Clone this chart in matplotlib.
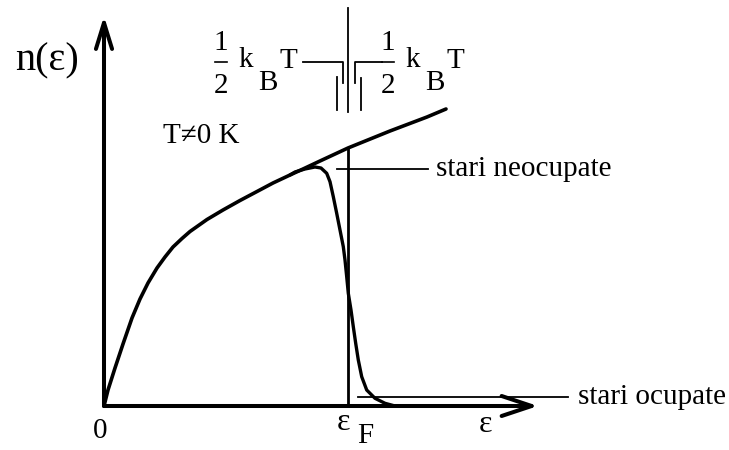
import matplotlib
matplotlib.use("Agg")
import matplotlib.pyplot as plt

plt.rcParams['font.family'] = ['Liberation Serif', 'DejaVu Serif']

# density of states n(eps) (arbitrary units)
eps_dos = [0, 4, 11, 19, 28, 36, 44, 53, 61, 69, 78, 86, 103, 119, 136, 153,
           169, 186, 199, 216, 244, 286, 323, 342]
n_dos = [0, 16, 38, 62, 88, 107, 123, 138, 149, 159, 167.5, 174.5, 186.5, 196,
         205.5, 214.5, 223, 231, 237, 245, 258, 275, 289, 297]

# occupied states at T != 0 (leaves the DOS curve near the Fermi level)
eps_occ = [186, 191, 201, 211, 217, 222.7, 226, 229.3, 232.7, 236, 239.3, 241,
           242.7, 244.3, 247, 249.3, 251.7, 254.3, 257.7, 262.7, 271, 281, 291]
n_occ = [231, 234, 237, 239, 238, 232.7, 224.3, 209.3, 192.7, 176, 159.3, 146,
         129.3, 112.7, 96, 79.3, 62.7, 46, 29.3, 16, 7.7, 2.7, 0]

eps_F = 244
n_F = 258
half_kT = 12.5

fig = plt.figure(figsize=(7.29, 4.5), dpi=100)
ax = fig.add_axes([0, 0, 1, 1])
ax.set_xlim(-104, 625)
ax.set_ylim(-44, 406)
ax.axis('off')

# axes with open arrow heads
ax.annotate('', xy=(434, 0), xytext=(0, 0),
            arrowprops=dict(arrowstyle='->,head_length=1.08,head_width=0.36',
                            lw=2.9, color='black', mutation_scale=20,
                            shrinkA=0, shrinkB=0))
ax.annotate('', xy=(0, 390), xytext=(0, 0),
            arrowprops=dict(arrowstyle='->,head_length=0.94,head_width=0.29',
                            lw=2.9, color='black', mutation_scale=20,
                            shrinkA=0, shrinkB=0))

ax.plot(eps_dos, n_dos, color='black', lw=2.6, solid_capstyle='round')
ax.plot(eps_occ, n_occ, color='black', lw=2.4, solid_capstyle='round')

# Fermi level
ax.plot([eps_F, eps_F], [0, n_F], color='black', lw=2.0)

# the kT markers on top
thin = dict(color='black', lw=1.3)
ax.plot([eps_F, eps_F], [294, 398], **thin)
ax.plot([eps_F - half_kT + 1, eps_F - half_kT + 1], [296, 329], **thin)
ax.plot([eps_F + half_kT + 1, eps_F + half_kT + 1], [296, 328], **thin)
ax.plot([199, eps_F - 5, eps_F - 5], [344, 344, 323], **thin)
ax.plot([278, eps_F + 7, eps_F + 7], [344, 344, 323], **thin)

# pointer lines
ax.plot([233, 324], [237, 237], **thin)
ax.plot([254, 464], [9.5, 9.5], **thin)

fs = 21
ax.text(-89, 336, 'n(ε)', fontsize=29, ha='left', va='baseline')
ax.text(59, 263, 'T≠0 K', fontsize=fs, ha='left', va='baseline')
ax.text(-4, -32, '0', fontsize=fs, ha='center', va='baseline')
ax.text(233, -24, 'ε', fontsize=23, ha='left', va='baseline')
ax.text(253, -37, 'F', fontsize=fs, ha='left', va='baseline')
ax.text(375, -26, 'ε', fontsize=23, ha='left', va='baseline')
ax.text(332, 230, 'stari neocupate', fontsize=fs, ha='left', va='baseline')
ax.text(474, 2, 'stari ocupate', fontsize=fs, ha='left', va='baseline')

# 1/2 kB T labels
for dx in [0, 167]:
    ax.plot([111 + dx, 123 + dx], [344, 344], color='black', lw=1.2)
    ax.text(117 + dx, 356, '1', fontsize=fs, ha='center', va='baseline')
    ax.text(117 + dx, 313, '2', fontsize=fs, ha='center', va='baseline')
    ax.text(134 + dx, 339, 'k', fontsize=fs, ha='left', va='baseline')
    ax.text(154 + dx, 316, 'B', fontsize=fs, ha='left', va='baseline')
    ax.text(176 + dx, 338, 'T', fontsize=fs, ha='left', va='baseline')

fig.savefig('out.png', dpi=100)
